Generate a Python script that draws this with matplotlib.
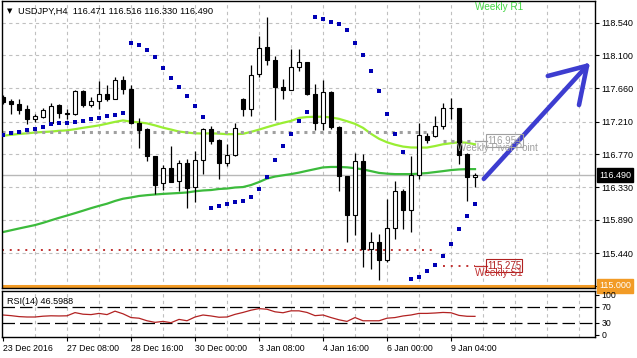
import numpy as np
import matplotlib.pyplot as plt
from matplotlib.transforms import blended_transform_factory

plt.rcParams['font.family'] = ['Liberation Sans', 'DejaVu Sans']

# USDJPY H4 candles (bar 0 = 23 Dec 2016)
opens = [117.542, 117.484, 117.453, 117.373, 117.239, 117.275, 117.195, 117.427, 117.329, 117.306,
         117.618, 117.431, 117.493, 117.587, 117.516, 117.774, 117.649, 117.195, 117.106, 116.741,
         116.380, 116.580, 116.407, 116.647, 116.326, 116.696, 117.106, 116.959, 116.647, 116.763,
         117.507, 117.382, 117.850, 118.210, 118.041, 117.676, 117.640, 117.939, 118.014, 117.582,
         117.195, 117.609, 117.141, 116.473, 115.961, 116.674, 115.502, 115.591, 115.355, 115.778,
         116.273, 116.015, 116.496, 117.017, 117.017, 117.150, 117.386, 117.395, 116.772, 116.471]
highs = [117.573, 117.507, 117.516, 117.427, 117.306, 117.395, 117.462, 117.440, 117.373, 117.631,
         117.631, 117.538, 117.761, 117.707, 117.805, 117.827, 117.707, 117.262, 117.128, 116.750,
         116.629, 116.883, 116.692, 116.705, 116.816, 117.128, 117.150, 116.972, 116.905, 117.195,
         117.529, 117.974, 118.362, 118.620, 118.095, 117.787, 118.188, 118.188, 118.014, 117.720,
         117.765, 117.618, 117.150, 116.482, 116.794, 116.772, 115.725, 115.703, 116.170, 116.415,
         116.304, 116.750, 117.186, 117.061, 117.284, 117.462, 117.529, 117.395, 116.785, 116.516]
lows = [117.453, 117.306, 117.306, 117.173, 117.204, 117.262, 117.173, 117.262, 117.239, 117.293,
        117.409, 117.409, 117.373, 117.484, 117.507, 117.587, 117.173, 116.861, 116.683, 116.237,
        116.295, 116.393, 116.282, 116.046, 116.126, 116.505, 116.905, 116.438, 116.616, 116.741,
        117.284, 117.284, 117.810, 117.974, 117.230, 117.507, 117.631, 117.885, 117.573, 117.097,
        117.097, 117.106, 116.282, 115.591, 115.681, 115.257, 115.235, 115.079, 115.324, 115.636,
        115.770, 115.725, 116.438, 116.928, 117.008, 117.115, 117.239, 116.638, 116.148, 116.330]
closes = [117.471, 117.449, 117.364, 117.239, 117.284, 117.360, 117.418, 117.329, 117.315, 117.618,
          117.427, 117.493, 117.582, 117.507, 117.774, 117.649, 117.186, 117.097, 116.741, 116.362,
          116.580, 116.402, 116.647, 116.318, 116.696, 117.106, 116.950, 116.647, 116.758, 117.128,
          117.382, 117.841, 118.197, 118.032, 117.671, 117.631, 117.943, 118.014, 117.582, 117.195,
          117.609, 117.141, 116.473, 115.948, 116.674, 115.502, 115.591, 115.355, 115.778, 116.273,
          116.019, 116.496, 117.026, 116.963, 117.150, 117.386, 117.395, 116.758, 116.469, 116.490]

sar = [117.026, 117.052, 117.075, 117.092, 117.115, 117.141, 117.173, 117.186, 117.195, 117.208,
       117.217, 117.239, 117.262, 117.284, 117.297, 117.320, 118.264, 118.233, 118.175, 118.077,
       117.930, 117.796, 117.676, 117.560, 117.418, 117.275, 116.050, 116.072, 116.104, 116.135,
       116.148, 116.193, 116.304, 116.460, 116.692, 116.883, 117.048, 117.213, 117.342, 118.620,
       118.589, 118.553, 118.522, 118.442, 118.273, 118.108, 117.885, 117.618, 117.306, 117.039,
       116.807, 115.088, 115.119, 115.208, 115.280, 115.400, 115.569, 115.761, 115.939, 116.104]

ma_fast = [117.020, 117.032, 117.044, 117.052, 117.063, 117.070, 117.076, 117.086, 117.092, 117.108,
           117.126, 117.142, 117.159, 117.182, 117.206, 117.226, 117.209, 117.199, 117.186, 117.159,
           117.128, 117.103, 117.076, 117.063, 117.052, 117.050, 117.052, 117.048, 117.041, 117.041,
           117.046, 117.072, 117.102, 117.135, 117.166, 117.194, 117.219, 117.259, 117.271, 117.275,
           117.275, 117.266, 117.247, 117.215, 117.180, 117.126, 117.046, 116.979, 116.932, 116.899,
           116.874, 116.862, 116.861, 116.861, 116.881, 116.905, 116.919, 116.933, 116.925, 116.905]

ma_slow = [115.725, 115.749, 115.773, 115.796, 115.819, 115.849, 115.883, 115.916, 115.947, 115.979,
           116.012, 116.046, 116.077, 116.106, 116.143, 116.173, 116.190, 116.210, 116.221, 116.230,
           116.238, 116.244, 116.250, 116.257, 116.273, 116.284, 116.290, 116.304, 116.310, 116.324,
           116.330, 116.357, 116.397, 116.444, 116.471, 116.488, 116.504, 116.524, 116.548, 116.571,
           116.594, 116.600, 116.600, 116.595, 116.584, 116.567, 116.544, 116.520, 116.510, 116.504,
           116.504, 116.504, 116.510, 116.518, 116.531, 116.544, 116.558, 116.567, 116.571, 116.571]

rsi = [50, 48.4, 46, 45, 45, 47, 48, 47.6, 48, 56, 52, 51, 54, 51, 59.6, 53, 43.6, 42, 35.6, 31.6,
       34, 30.8, 39, 35.6, 45, 50, 47.6, 44.4, 45, 51.6, 56.4, 62, 66, 64.4, 58, 55.6, 60.4, 60.4,
       56.4, 48.4, 50, 43.6, 38, 34, 43.6, 35.6, 35.6, 35.6, 42, 43.6, 47.6, 50, 54, 54, 55, 56.4,
       55.6, 49, 46.8, 46.6]

date_labels = ['23 Dec 2016', '27 Dec 08:00', '28 Dec 16:00', '30 Dec 00:00',
               '3 Jan 08:00', '4 Jan 16:00', '6 Jan 00:00', '9 Jan 04:00']
price_ticks = [115.000, 115.440, 115.890, 116.330, 116.770, 117.210, 117.660, 118.100, 118.540]

last_price = 116.490
round_level = 115.000
pivot_prev, pivot_now = 117.075, 116.954
s1_prev, s1_now = 115.489, 115.275
week_start = 55          # first bar of the 9 Jan week
arrow_tail = (60.1, 116.44)
arrow_tip = (73.0, 117.96)
arrow_wings = [(68.1, 117.823), (72.0, 117.433)]

grid_c = '#c0c0c0'
W, H = 637, 358
fig = plt.figure(figsize=(W / 100, H / 100), dpi=100)
ax = fig.add_axes([2 / W, 1 - 288 / H, 593 / W, 287 / H])
rx = fig.add_axes([2 / W, 1 - 337 / H, 593 / W, 46 / H])

x = np.arange(len(opens))
o = np.array(opens)
c = np.array(closes)
up = c >= o
xmax = 74.0

for a in (ax, rx):
    a.set_xlim(-0.125, xmax)
    for g in range(4, 73, 4):
        a.axvline(g, color=grid_c, lw=0.8, ls=(0, (3, 3)), zorder=0)
    for s in a.spines.values():
        s.set_color('black')
        s.set_linewidth(1)

# main price panel
ax.set_ylim(114.973, 118.831)
for p in price_ticks:
    ax.axhline(p, color=grid_c, lw=0.8, ls=(0, (3, 3)), zorder=0)
ax.axhline(last_price, color='#b8b8b8', lw=1, zorder=1)

ax.plot(x, ma_fast, color='#99ee33', lw=1.6, zorder=2)
ax.plot(x, ma_slow, color='#3cbb3c', lw=1.6, zorder=2)

# pivot levels: last week and this week
ax.plot([-0.125, week_start - 1], [pivot_prev] * 2, color='#a0a0a0', lw=2.2, ls=(0, (1, 1.6)), zorder=2)
ax.plot([week_start, 59], [pivot_now] * 2, color='#a0a0a0', lw=2.2, ls=(0, (1, 1.6)), zorder=2)
ax.plot([59, 60.5], [pivot_now] * 2, color='#a0a0a0', lw=0.9, zorder=2)
ax.plot([-0.125, week_start - 1], [s1_prev] * 2, color='#c03030', lw=1.4, ls=(0, (1, 3.0)), zorder=2)
ax.plot([week_start, 59], [s1_now] * 2, color='#c03030', lw=1.4, ls=(0, (1, 3.0)), zorder=2)
ax.plot([59, 60.5], [s1_now] * 2, color='#c03030', lw=0.9, zorder=2)

ax.axhline(round_level, color='#f29b26', lw=2.2, zorder=2)

# candles
ax.vlines(x, lows, highs, color='black', lw=0.9, zorder=3)
body_lo = np.minimum(o, c)
body_h = np.abs(c - o)
ax.bar(x[up], body_h[up], bottom=body_lo[up], width=0.6, facecolor='white',
       edgecolor='black', lw=0.8, zorder=4)
ax.bar(x[~up], body_h[~up], bottom=body_lo[~up], width=0.6, facecolor='black',
       edgecolor='black', lw=0.8, zorder=4)

ax.scatter(x, sar, marker='s', s=6.5, color='#0000b4', lw=0, zorder=5)

# hand drawn arrow
ax.plot([arrow_tail[0], arrow_tip[0]], [arrow_tail[1], arrow_tip[1]], color='#3d3dd0',
        lw=3.3, solid_capstyle='round', zorder=6)
for wx, wy in arrow_wings:
    ax.plot([wx, arrow_tip[0]], [wy, arrow_tip[1]], color='#3d3dd0', lw=3.3,
            solid_capstyle='round', zorder=6)

# level labels
ax.text(60.5, pivot_now, '116.954', color='#a0a0a0', fontsize=7, va='center', ha='left',
        bbox=dict(boxstyle='square,pad=0.12', fc='none', ec='#a0a0a0', lw=0.8), zorder=7)
ax.text(56.75, 116.855, 'Weekly Pivot Point', color='#a0a0a0', fontsize=7, va='center', ha='left', zorder=7)
ax.text(60.5, s1_now, '115.275', color='#b02020', fontsize=7, va='center', ha='left',
        bbox=dict(boxstyle='square,pad=0.12', fc='none', ec='#b02020', lw=0.8), zorder=7)
ax.text(59, 115.17, 'Weekly S1', color='#c03030', fontsize=7.2, va='center', ha='left', zorder=7)
ax.text(59, 118.75, 'Weekly R1', color='#44d644', fontsize=7.2, va='center', ha='left', zorder=7)

ax.yaxis.tick_right()
ax.set_yticks(price_ticks)
ax.set_yticklabels([''] + ['%.3f' % p for p in price_ticks[1:]])
ax.tick_params(axis='y', length=3, width=0.8, pad=1.5, labelsize=6.5)
ax.tick_params(axis='x', bottom=False, labelbottom=False)

tr = blended_transform_factory(ax.transAxes, ax.transData)
ax.text(1 + 4 / 593, last_price, '%.3f' % last_price, transform=tr, color='white', fontsize=6.5,
        va='center', ha='left', clip_on=False,
        bbox=dict(boxstyle='square,pad=0.25', fc='black', ec='black'), zorder=8)
ax.text(1 + 4 / 593, round_level, '%.3f' % round_level, transform=tr, color='white', fontsize=6.5,
        va='center', ha='left', clip_on=False,
        bbox=dict(boxstyle='square,pad=0.25', fc='#f29b26', ec='#f29b26'), zorder=8)

fig.text(7 / W, 1 - 11 / H, '\u25bc', fontsize=5, va='center', ha='left', family='DejaVu Sans')
fig.text(18 / W, 1 - 11 / H, 'USDJPY,H4  %.3f %.3f %.3f %.3f' % (opens[-1], highs[-1], lows[-1], closes[-1]),
         fontsize=6.7, va='center', ha='left')

# RSI panel
rx.set_ylim(-5, 110)
rx.axhline(70, color='black', lw=0.9, ls=(0, (10, 4)), zorder=1)
rx.axhline(30, color='black', lw=0.9, ls=(0, (10, 4)), zorder=1)
rx.plot(x, rsi, color='#b22222', lw=0.9, zorder=2)
rx.text(5 / 593, 0.78, 'RSI(14) %.4f' % 46.5988, transform=rx.transAxes, fontsize=6.5, va='center')
rx.yaxis.tick_right()
rx.set_yticks([100, 70, 30, 0])
rx.set_yticklabels(['100', '70', '30', '0'])
rx.tick_params(axis='y', length=3, width=0.8, pad=1.5, labelsize=6.3)
rx.set_xticks(range(0, 57, 8))
rx.set_xticklabels(date_labels, ha='left')
rx.tick_params(axis='x', length=3, width=0.8, pad=2, labelsize=6.3)

fig.savefig('out.png', dpi=100, facecolor='white')
